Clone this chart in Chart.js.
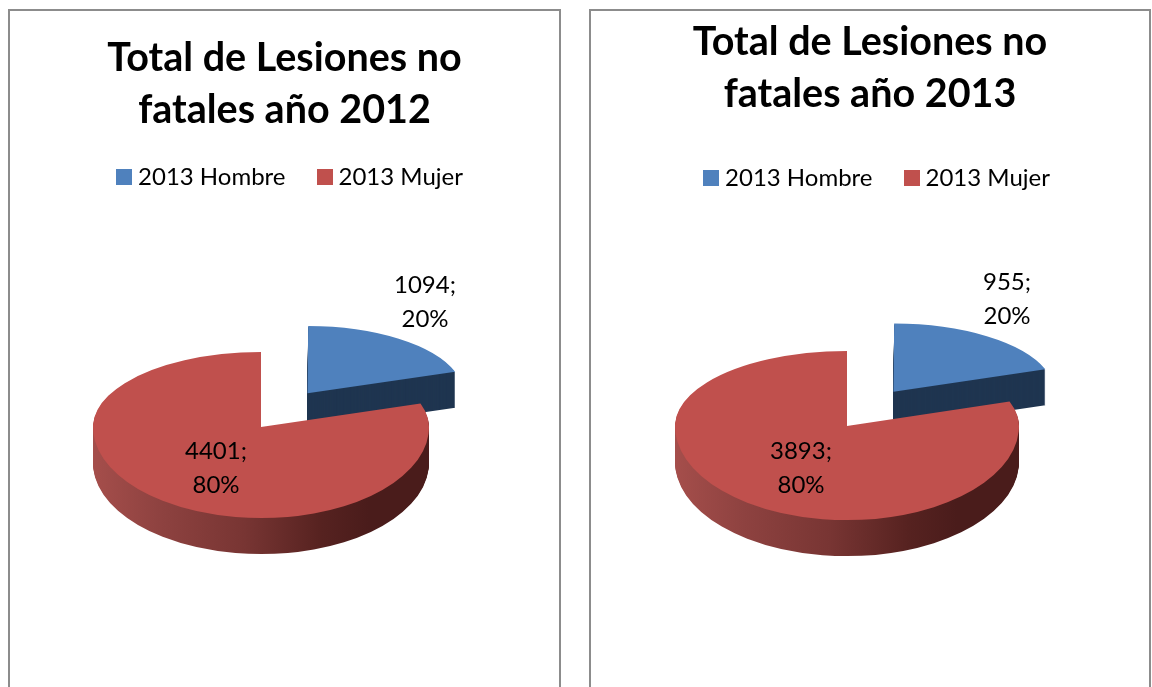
<!DOCTYPE html>
<html lang="es">
<head>
<meta charset="utf-8">
<title>Total de Lesiones no fatales</title>
<script src="https://cdn.jsdelivr.net/npm/chart.js@4/dist/chart.umd.min.js"></script>
<style>
html,body{margin:0;padding:0;background:#fff;width:1152px;height:687px;overflow:hidden}
.panel{position:absolute;top:9px;height:690px;box-sizing:border-box;border:2px solid #8c8c8c;background:#fff}
.panel canvas{position:absolute;left:0;top:0}
</style>
</head>
<body>
<div class="panel" style="left:8px;width:553px"><canvas id="c2012" width="549" height="688"></canvas></div>
<div class="panel" style="left:589px;width:562px"><canvas id="c2013" width="558" height="688"></canvas></div>
<script>
const categories = ['2013 Hombre', '2013 Mujer'];
const values2012 = [1094, 4401];
const values2013 = [955, 3893];
const percent2012 = ['20%', '80%'];
const percent2013 = ['20%', '80%'];
const titleLines2012 = ['Total de Lesiones no', 'fatales año 2012'];
const titleLines2013 = ['Total de Lesiones no', 'fatales año 2013'];

const FONT = 'Lato, Carlito, "Open Sans", sans-serif';
const TOP_COLORS = ['#4F81BD', '#C0504D'];
const BLUE_WALL = '#1F3550';
const ArcDraw = Chart.elements.ArcElement.prototype.draw;

function swatch(color) {
  const c = document.createElement('canvas');
  c.width = 16; c.height = 16;
  const x = c.getContext('2d');
  x.fillStyle = color;
  x.fillRect(0, 0, 16, 16);
  return c;
}

function paintArc(ctx, el, p, s, depth, fill) {
  const cx = el.x, cy = el.y;
  const ty = p.ty + (s.lift || 0) + depth;
  const W = ctx.canvas.width, H = ctx.canvas.height;
  const parts = [[0, ty, s.up], [ty, H - ty, s.down]];
  const saved = el.options;
  if (fill) {
    el.options = {backgroundColor: fill, borderColor: 'transparent', borderWidth: 0, borderAlign: 'center',
      offset: saved.offset, spacing: 0, circular: true, borderRadius: 0};
  }
  for (const [y0, h, sy] of parts) {
    ctx.save();
    ctx.beginPath();
    ctx.rect(0, y0, W, h);
    ctx.clip();
    ctx.transform(s.sx, 0, 0, sy, p.tx - cx * s.sx, ty - cy * sy);
    ArcDraw.call(el, ctx);
    ctx.restore();
  }
  el.options = saved;
}

const pie3d = {
  id: 'pie3d',
  afterLayout(chart, args, p) {
    const lg = chart.legend;
    lg.left += p.legendDx; lg.right += p.legendDx;
    lg.top += p.legendDy; lg.bottom += p.legendDy;
  },
  afterDatasetsUpdate(chart, args, p) {
    const arcs = chart.getDatasetMeta(0).data;
    arcs.forEach((el, i) => {
      el.draw = function (ctx) {
        const s = p.slices[i];
        let wall = BLUE_WALL;
        if (i === 1) {
          const g = ctx.createLinearGradient(el.x - p.radius, 0, el.x + p.radius, 0);
          g.addColorStop(0, '#A54E4B');
          g.addColorStop(0.2, '#8E4240');
          g.addColorStop(0.45, '#783533');
          g.addColorStop(0.68, '#562220');
          g.addColorStop(0.82, '#4A1C1B');
          g.addColorStop(1, '#4A1C1B');
          wall = g;
        }
        for (let d = p.depth; d >= 1; d--) paintArc(ctx, el, p, s, d, wall);
        paintArc(ctx, el, p, s, 0, null);
      };
    });
  },
  afterDraw(chart, args, p) {
    const ctx = chart.ctx;
    const vals = chart.data.datasets[0].data;
    ctx.save();
    ctx.font = '24px ' + FONT;
    ctx.fillStyle = '#000';
    ctx.textAlign = 'center';
    ctx.textBaseline = 'middle';
    vals.forEach((v, i) => {
      const [dx, dy] = p.labels[i];
      const x = p.tx + dx, y = p.ty + dy;
      ctx.fillText(v + ';', x, y);
      ctx.fillText(p.percents[i], x, y + 34);
    });
    ctx.restore();
  }
};

function makeChart(id, values, percents, titleLines, pane) {
  return new Chart(document.getElementById(id), {
    type: 'pie',
    data: {
      labels: categories,
      datasets: [{
        data: values,
        backgroundColor: TOP_COLORS,
        borderWidth: 0,
        offset: [pane.explode * 4, 0],
        radius: pane.radius,
        clip: false
      }]
    },
    plugins: [pie3d],
    options: {
      responsive: false,
      animation: false,
      events: [],
      layout: {padding: 0},
      plugins: {
        tooltip: {enabled: false},
        title: {
          display: true,
          text: titleLines,
          color: '#000',
          font: {family: FONT, size: 39.5, weight: 'bold', lineHeight: 1.32},
          padding: {top: pane.titleTop, bottom: pane.titleBottom}
        },
        legend: {
          display: true,
          position: 'top',
          labels: {
            usePointStyle: true, pointStyleWidth: 4, boxHeight: 16, color: '#000',
            font: {family: FONT, size: 24}, padding: 37,
            generateLabels: (chart) => categories.map((text, i) => ({
              text, fillStyle: TOP_COLORS[i], strokeStyle: TOP_COLORS[i], lineWidth: 0,
              pointStyle: swatch(TOP_COLORS[i]), fontColor: '#000', hidden: false, index: i
            }))
          }
        },
        pie3d: {
          radius: pane.radius, depth: pane.depth, tx: pane.tx, ty: pane.ty,
          legendDx: pane.legendDx, legendDy: pane.legendDy,
          slices: pane.slices, labels: pane.labels, percents
        }
      }
    }
  });
}

document.fonts.load('24px Lato').finally(() => {
  makeChart('c2012', values2012, percent2012, titleLines2012, {
    radius: 168, explode: 88, depth: 36, tx: 251, ty: 416,
    titleTop: 21, titleBottom: 0, legendDx: 8, legendDy: -8,
    slices: [{sx: 0.903, up: 0.39, down: 0.39, lift: -6}, {sx: 1, up: 0.446, down: 0.542}],
    labels: [[164, -142], [-45, 24]]
  });
  makeChart('c2013', values2013, percent2013, titleLines2013, {
    radius: 172, explode: 88, depth: 36, tx: 256, ty: 415,
    titleTop: 5, titleBottom: 12, legendDx: 9.5, legendDy: -3,
    slices: [{sx: 0.91, up: 0.386, down: 0.386, lift: -6.5}, {sx: 1, up: 0.436, down: 0.547}],
    labels: [[160, -144], [-46, 25]]
  });
});
</script>
</body>
</html>
